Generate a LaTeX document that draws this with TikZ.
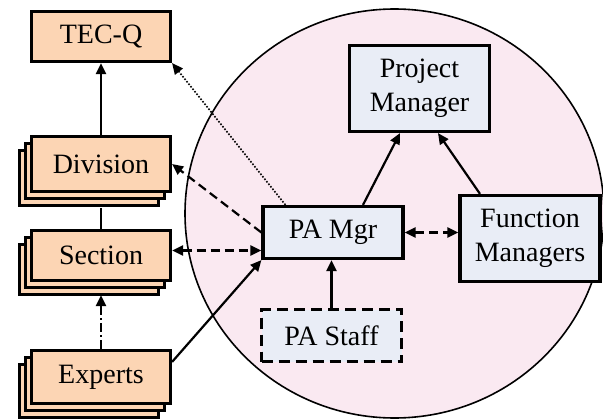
\documentclass[tikz,border=0pt]{standalone}
\usepackage{fontspec}
\newfontfamily\timesfont{Liberation Serif}
\usetikzlibrary{arrows.meta,shadows}

\definecolor{peach}{RGB}{252,213,180}
\definecolor{paleblue}{RGB}{233,237,246}
\definecolor{palepink}{RGB}{250,233,241}

\begin{document}
\begin{tikzpicture}[
  x=1pt,y=-1pt,
  font=\timesfont\fontsize{28}{34}\selectfont,
  org/.style={draw,line width=3.2pt,fill=peach,minimum width=139pt,minimum height=50pt,inner sep=0pt},
  stack/.style={org,double copy shadow={shadow xshift=-6pt,shadow yshift=-7pt,line width=3pt}},
  pa/.style={draw,line width=3.2pt,fill=paleblue,minimum width=140pt,align=center,inner sep=0pt},
  link/.style={line width=2.2pt},
  dashlink/.style={link,dash pattern=on 9pt off 5pt},
  >={Triangle[length=11pt,width=10pt]}
]
\useasboundingbox (0,0) rectangle (603,420);
% the project circle
\draw[line width=1.6pt,fill=palepink] (394.5,213.5) ellipse [x radius=209.5pt,y radius=204.5pt];

% line organisation
\node[org] (TECQ) at (101,36.5) {TEC-Q};
\node[stack,minimum height=55pt] (Division) at (101,164) {Division};
\node[stack] (Section) at (101,255.5) {Section};
\node[stack,minimum height=53pt] (Experts) at (101,377) {Experts};

% project organisation
\node[pa,minimum height=86pt] (PM) at (419.5,88.5) {Project\\Manager};
\node[pa,minimum height=52pt] (PAMgr) at (333,232.5) {PA Mgr};
\node[pa,minimum height=86pt] (FM) at (530,238.5) {Function\\Managers};
\node[pa,minimum height=52pt,dash pattern=on 11pt off 6pt] (PAStaff) at (331.5,335.5) {PA Staff};

\draw[link,->] (Division.north) -- (TECQ.south);
\draw[link,shorten <=15pt] (Division.south) -- (Section.north);
\draw[link,->,dash pattern=on 9pt off 3pt on 2pt off 3pt,shorten >=13pt] (Experts.north) -- (Section.south);
\draw[->,line width=1.6pt,dash pattern=on 1.6pt off 1.6pt] ([xshift=24pt]PAMgr.north west) -- (TECQ.south east);
\draw[dashlink,->] (PAMgr.west) -- (Division.east);
\coordinate (s) at ([yshift=5pt]Section.east);
\draw[dashlink,<->] (s) -- (s -| PAMgr.west);
\draw[link,->] ([yshift=-13pt]Experts.north east) -- (PAMgr.south west);
\draw[link,->] ([xshift=30pt]PAMgr.north) -- ([xshift=-19.5pt]PM.south);
\draw[link,->] ([xshift=-50pt]FM.north) -- ([xshift=18.5pt]PM.south);
\draw[link,->] (PAStaff.north) -- (PAStaff.north |- PAMgr.south);
\draw[dashlink,<->] (PAMgr.east) -- (PAMgr.east -| FM.west);
\end{tikzpicture}
\end{document}
